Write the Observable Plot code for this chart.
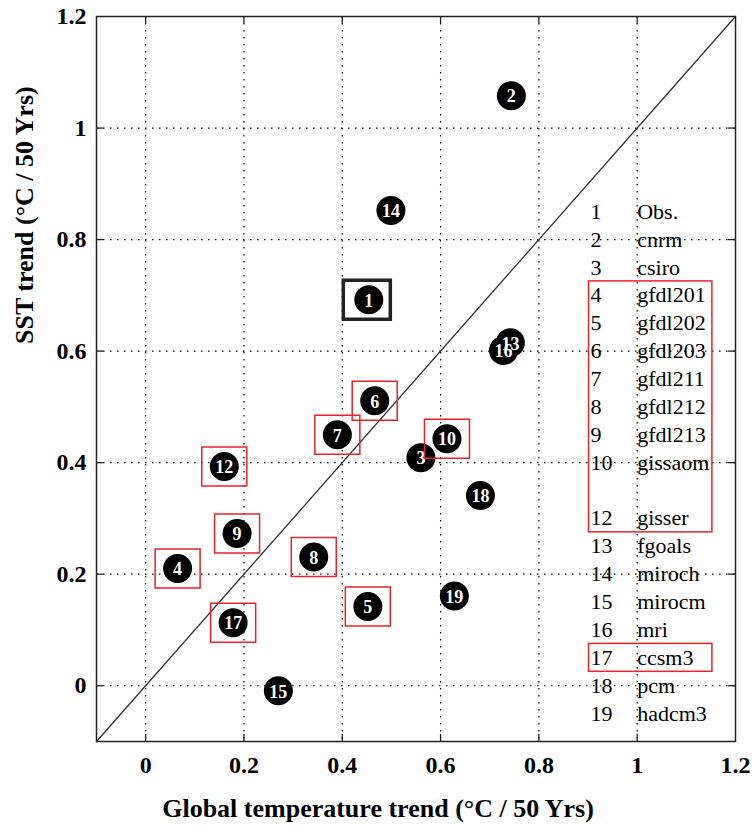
<!DOCTYPE html>
<html>
<head>
<meta charset="utf-8">
<script src="https://cdn.jsdelivr.net/npm/d3@7"></script>
<script src="https://cdn.jsdelivr.net/npm/@observablehq/plot@0.6"></script>
<style>
  html, body { margin: 0; padding: 0; background: #fff; }
  svg { font-family: "Liberation Serif", "Times New Roman", serif; }
</style>
</head>
<body>
<div id="chart"></div>
<script>
// ---- Data ----
const pointIds    = [1, 2, 3, 4, 5, 6, 7, 8, 9, 10, 12, 13, 14, 15, 16, 17, 18, 19];
const globalTrend = [0.454, 0.744, 0.560, 0.065, 0.452, 0.466, 0.390, 0.342, 0.186, 0.613, 0.160, 0.742, 0.499, 0.270, 0.728, 0.178, 0.681, 0.628];
const sstTrend    = [0.692, 1.058, 0.409, 0.210, 0.142, 0.511, 0.450, 0.231, 0.273, 0.443, 0.393, 0.615, 0.852, -0.009, 0.601, 0.113, 0.341, 0.161];

const legendNums  = ["1", "2", "3", "4", "5", "6", "7", "8", "9", "10", "", "12", "13", "14", "15", "16", "17", "18", "19"];
const legendNames = ["Obs.", "cnrm", "csiro", "gfdl201", "gfdl202", "gfdl203", "gfdl211", "gfdl212", "gfdl213", "gissaom", "", "gisser", "fgoals", "miroch", "mirocm", "mri", "ccsm3", "pcm", "hadcm3"];

const highlightedIds = [4, 5, 6, 7, 8, 9, 10, 12, 17];   // red boxes
const observedId = 1;                                    // black box
const legendGroups = [[4, 12], [17, 17]];                // red boxes in legend (row ranges)

const xTicks = [0, 0.2, 0.4, 0.6, 0.8, 1, 1.2];
const yTicks = [0, 0.2, 0.4, 0.6, 0.8, 1, 1.2];
const xDomain = [-0.1, 1.2];
const yDomain = [-0.1, 1.2];
const xTitle = "Global temperature trend (°C / 50 Yrs)";
const yTitle = "SST trend (°C / 50 Yrs)";

// ---- Build tables ----
const points = pointIds.map((id, i) => ({id, x: globalTrend[i], y: sstTrend[i]}));
const boxed = points.filter(d => highlightedIds.includes(d.id));
const obs = points.filter(d => d.id === observedId);

// legend layout (in data units)
const legX0 = 0.905, legX1 = 1.0, rowTop = 0.85, rowStep = 0.05;
const rowY = i => rowTop - rowStep * (i - 1);
const legend = legendNums.map((n, i) => ({num: n, name: legendNames[i], y: rowY(i + 1)}));
const legendBoxes = legendGroups.map(([a, b]) => ({
  x1: 0.902, x2: 1.153, y1: rowY(a) + rowStep / 2, y2: rowY(b) - rowStep / 2
}));

// inward tick marks (matlab style), expressed as a small fraction of the domain
const tx = (xDomain[1] - xDomain[0]) * 0.011;
const ty = (yDomain[1] - yDomain[0]) * 0.010;
const innerX = xTicks.slice(0, -1);
const innerY = yTicks.slice(0, -1);

const rectSymbol = (w, h) => ({
  draw(ctx) {
    ctx.moveTo(-w / 2, -h / 2);
    ctx.lineTo(w / 2, -h / 2);
    ctx.lineTo(w / 2, h / 2);
    ctx.lineTo(-w / 2, h / 2);
    ctx.closePath();
  }
});

const font = "Liberation Serif";
const red = "#e8232b";

const chart = Plot.plot({
  width: 752,
  height: 831,
  marginLeft: 96,
  marginRight: 17,
  marginTop: 16,
  marginBottom: 90,
  style: {fontFamily: font, background: "#fff"},
  x: {domain: xDomain, axis: null},
  y: {domain: yDomain, axis: null},
  marks: [
    // grid
    Plot.gridX(innerX, {stroke: "#000", strokeOpacity: 1, strokeWidth: 1.2, strokeDasharray: "1.5,5.5"}),
    Plot.gridY(innerY, {stroke: "#000", strokeOpacity: 1, strokeWidth: 1.2, strokeDasharray: "1.5,5.5"}),
    // inward ticks
    Plot.ruleX(innerX, {x: d => d, y1: yDomain[0], y2: yDomain[0] + ty, stroke: "#222", strokeWidth: 1.3}),
    Plot.ruleX(innerX, {x: d => d, y1: yDomain[1], y2: yDomain[1] - ty, stroke: "#222", strokeWidth: 1.3}),
    Plot.ruleY(innerY, {y: d => d, x1: xDomain[0], x2: xDomain[0] + tx, stroke: "#222", strokeWidth: 1.3}),
    Plot.ruleY(innerY, {y: d => d, x1: xDomain[1], x2: xDomain[1] - tx, stroke: "#222", strokeWidth: 1.3}),
    // diagonal 1:1 line
    Plot.line([[xDomain[0], yDomain[0]], [xDomain[1], yDomain[1]]], {stroke: "#333", strokeWidth: 1.3}),
    // tick labels
    Plot.text(xTicks, {x: d => d, frameAnchor: "bottom", dy: 24, lineAnchor: "middle", fontSize: 24, fontWeight: "bold", fill: "#000", text: d => String(d)}),
    Plot.text(yTicks, {y: d => d, frameAnchor: "left", dx: -10, textAnchor: "end", fontSize: 24, fontWeight: "bold", fill: "#000", text: d => String(d)}),
    // legend
    Plot.rect(legendBoxes, {x1: "x1", x2: "x2", y1: "y1", y2: "y2", fill: "none", stroke: red, strokeWidth: 1.5}),
    Plot.text(legend, {x: legX0, y: "y", text: "num", textAnchor: "start", fontSize: 22, fill: "#000"}),
    Plot.text(legend, {x: legX1, y: "y", text: "name", textAnchor: "start", fontSize: 22, fill: "#000"}),
    // model dots
    Plot.dot(points, {x: "x", y: "y", r: 14.5, fill: "#000", stroke: "none"}),
    Plot.text(points, {x: "x", y: "y", text: d => String(d.id), fill: "#fff", fontSize: 18, fontWeight: "bold", dy: 1}),
    // highlight boxes
    Plot.dot(boxed, {x: "x", y: "y", symbol: rectSymbol(45, 39), r: 20, fill: "none", stroke: red, strokeWidth: 1.5}),
    Plot.dot(obs, {x: "x", y: "y", symbol: rectSymbol(47, 39), r: 20, dx: -2, fill: "none", stroke: "#222", strokeWidth: 3.5}),
    // frame
    Plot.frame({stroke: "#222", strokeWidth: 1.5}),
    // axis titles
    Plot.text([xTitle], {frameAnchor: "bottom", dx: -38, dy: 67, lineAnchor: "middle", fontSize: 26, fontWeight: "bold", fill: "#000"}),
    Plot.text([yTitle], {frameAnchor: "left", dx: -72, dy: -35, rotate: -90, fontSize: 26, fontWeight: "bold", fill: "#000"})
  ]
});

document.getElementById("chart").appendChild(chart);
</script>
</body>
</html>
